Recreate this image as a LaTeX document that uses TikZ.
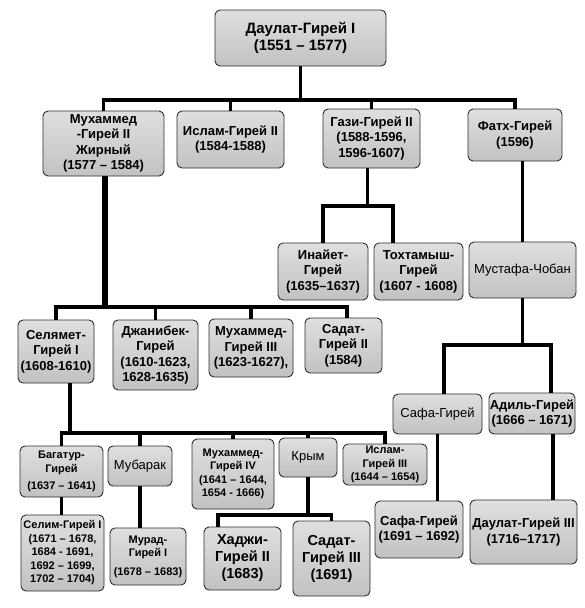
\documentclass[tikz,border=0pt]{standalone}
\usepackage{fontspec}
\setmainfont{Liberation Sans}
\begin{document}
\begin{tikzpicture}[x=1pt,y=-1pt,
  khan/.style={draw=gray!35!black, line width=0.9pt, rounded corners=5pt, top color=gray!25, bottom color=gray!48,
    align=center, inner sep=0pt, font=\bfseries\fontsize{13}{15.5}\selectfont},
  plainkhan/.style={khan, font=\fontsize{13}{15.5}\selectfont},
  smallkhan/.style={khan, font=\bfseries\fontsize{11}{13.5}\selectfont},
  bigkhan/.style={khan, font=\bfseries\fontsize{14.5}{17}\selectfont},
  link/.style={line width=3.5pt, line join=miter},
  trunk/.style={line width=6.5pt}]
  \useasboundingbox (0,0) rectangle (585,608);
  % levels of the bars
  \coordinate (b0) at (0,100);
  \coordinate (b1) at (0,206);
  \coordinate (b2) at (0,307);
  \coordinate (b3) at (0,345);
  \coordinate (b4) at (0,433);
  \coordinate (b5) at (0,515);

  % first generations
  \node[khan, font=\bfseries\fontsize{15}{17}\selectfont, minimum width=171, minimum height=56] (top) at (300.5,38) {Даулат-Гирей I\\(1551 – 1577)};
  \node[khan, minimum width=121, minimum height=65] (muh2) at (103.5,143.5) {Мухаммед\\-Гирей II\\Жирный\\(1577 – 1584)};
  \node[khan, minimum width=107, minimum height=57] (isl2) at (230.5,139.5) {Ислам-Гирей II\\(1584-1588)};
  \node[khan, minimum width=97, minimum height=59] (gazi) at (371.5,138.5) {Гази-Гирей II\\(1588-1596,\\1596-1607)};
  \node[khan, minimum width=94, minimum height=52] (fath) at (515,135) {Фатх-Гирей\\(1596)};
  \node[khan, minimum width=90, minimum height=57] (inay) at (323,271.5) {Инайет-\\Гирей\\(1635–1637)};
  \node[khan, minimum width=89, minimum height=57] (toh) at (418.5,271.5) {Тохтамыш-\\Гирей\\(1607 - 1608)};
  \node[plainkhan, minimum width=107, minimum height=56] (must) at (522.5,270) {Мустафа-Чобан};

  % sons of Mukhammed II
  \node[khan, minimum width=76, minimum height=63] (sel1) at (56,351.5) {Селямет-\\Гирей I\\(1608-1610)};
  \node[khan, minimum width=85, minimum height=70] (jan) at (155.5,355) {Джанибек-\\Гирей\\(1610-1623,\\1628-1635)};
  \node[khan, minimum width=84, minimum height=58] (muh3) at (251,348) {Мухаммед-\\Гирей III\\(1623-1627),};
  \node[khan, minimum width=77, minimum height=55] (sad2) at (343.5,345.5) {Садат-\\Гирей II\\(1584)};
  \node[plainkhan, minimum width=89, minimum height=40] (safa) at (437.5,414) {Сафа-Гирей};
  \node[khan, minimum width=86, minimum height=41] (adil) at (532,413.5) {Адиль-Гирей\\(1666 – 1671)};

  % sons of Selyamet I
  \node[smallkhan, minimum width=83, minimum height=51] (bag) at (61.5,471.5) {Багатур-\\Гирей\\[4pt](1637 – 1641)};
  \node[plainkhan, minimum width=64, minimum height=40] (mub) at (140,466) {Мубарак};
  \node[smallkhan, minimum width=82, minimum height=70] (muh4) at (233,474) {Мухаммед-\\Гирей IV\\(1641 – 1644,\\1654 - 1666)};
  \node[plainkhan, minimum width=58, minimum height=39] (krym) at (308,457.5) {Крым};
  \node[smallkhan, minimum width=84, minimum height=41] (isl3) at (385,464.5) {Ислам-\\Гирей III\\(1644 – 1654)};

  % last row
  \node[smallkhan, minimum width=83, minimum height=76] (selim) at (62.5,553) {Селим-Гирей I\\(1671 – 1678,\\1684 - 1691,\\1692 – 1699,\\1702 – 1704)};
  \node[smallkhan, minimum width=76, minimum height=57] (murad) at (148,556.5) {Мурад-\\Гирей I\\[5pt](1678 – 1683)};
  \node[bigkhan, minimum width=77, minimum height=63] (hadj) at (242.5,558.5) {Хаджи-\\Гирей II\\(1683)};
  \node[bigkhan, minimum width=77, minimum height=75] (sad3) at (331.5,558.5) {Садат-\\Гирей III\\(1691)};
  \node[khan, minimum width=88, minimum height=57] (safa2) at (419,529.5) {Сафа-Гирей\\(1691 – 1692)};
  \node[khan, minimum width=107, minimum height=64] (daul3) at (523.5,532) {Даулат-Гирей III\\(1716–1717)};

  % links
  \draw[link] (top.south) -- (top.south |- b0);
  \draw[link] (muh2.north) |- (b0 -| fath.north) -- (fath.north);
  \draw[link] (isl2.north) -- (isl2.north |- b0);
  \draw[link] (gazi.north) -- (gazi.north |- b0);

  \draw[link] ([xshift=-4pt]gazi.south) -- ([xshift=-4pt]gazi.south |- b1);
  \draw[link] (inay.north) |- ([xshift=-25.5pt]b1 -| toh.north) -- ([xshift=-25.5pt]toh.north);
  \draw[link] (must.north |- fath.south) -- (must.north);

  \draw[trunk] ([xshift=1.5pt]muh2.south) -- ([xshift=1.5pt]muh2.south |- b2);
  \draw[link] (sel1.north) |- ([xshift=3.5pt]b2 -| sad2.north) -- ([xshift=3.5pt]sad2.north);
  \draw[link] (jan.north) -- (jan.north |- b2);
  \draw[link] (muh3.north) -- (muh3.north |- b2);

  \draw[link] (must.south) -- (must.south |- b3);
  \draw[link] ([xshift=6.5pt]safa.north) |- ([xshift=19pt]b3 -| adil.north) -- ([xshift=19pt]adil.north);
  \draw[link] (safa.south) -- (safa.south |- safa2.north);
  \draw[link] ([xshift=21pt]adil.south) -- ([xshift=21pt]adil.south |- daul3.north);

  \draw[link] ([xshift=14pt]sel1.south) -- ([xshift=14pt]sel1.south |- b4);
  \draw[link] (bag.north) |- (b4 -| isl3.north) -- (isl3.north);
  \draw[link] (mub.north) -- (mub.north |- b4);
  \draw[link] (muh4.north) -- (muh4.north |- b4);
  \draw[link] (krym.north) -- (krym.north |- b4);

  \draw[link] (bag.south) -- (bag.south |- selim.north);
  \draw[link] (mub.south) -- (mub.south |- murad.north);
  \draw[link] (krym.south) -- (krym.south |- b5);
  \draw[link] ([xshift=-24.5pt]hadj.north) |- (b5 -| sad3.north) -- (sad3.north);
\end{tikzpicture}
\end{document}
